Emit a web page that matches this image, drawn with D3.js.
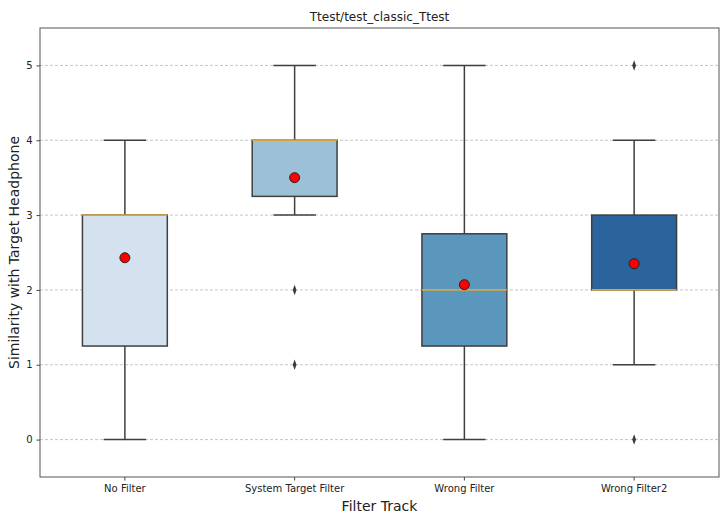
<!DOCTYPE html>
<html>
<head>
<meta charset="utf-8">
<script src="https://cdn.jsdelivr.net/npm/d3@7"></script>
<style>
  body { margin: 0; background: #fff; }
  text { font-family: "DejaVu Sans", sans-serif; fill: #222; }
</style>
</head>
<body>
<div id="chart"></div>
<script>
const categories = ['No Filter', 'System Target Filter', 'Wrong Filter', 'Wrong Filter2'];
const whiskerLow = [0, 3, 0, 1];
const q1 = [1.25, 3.25, 1.25, 2];
const median = [3, 4, 2, 2];
const q3 = [3, 4, 2.75, 3];
const whiskerHigh = [4, 5, 5, 4];
const means = [2.43, 3.5, 2.07, 2.35];
const outliers = [[], [2, 1], [], [5, 0]];
const boxColors = ['#d4e2ef', '#9cc1d7', '#5b96bc', '#2b649c'];
const yTicks = [0, 1, 2, 3, 4, 5];

const width = 724, height = 518;
const margin = { top: 28, right: 5, bottom: 41, left: 40 };
const W = width - margin.left - margin.right;
const H = height - margin.top - margin.bottom;

const svg = d3.select('#chart').append('svg')
  .attr('width', width).attr('height', height);

const g = svg.append('g').attr('transform', `translate(${margin.left},${margin.top})`);

const x = d3.scaleBand().domain(categories).range([0, W]);
const y = d3.scaleLinear().domain([-0.5, 5.5]).range([H, 0]);

const boxW = x.bandwidth() * 0.5;
const capW = boxW * 0.5;
const edge = '#3f3f3f';

// gridlines
g.append('g')
  .selectAll('line')
  .data(yTicks)
  .join('line')
  .attr('x1', 0).attr('x2', W)
  .attr('y1', d => y(d)).attr('y2', d => y(d))
  .attr('stroke', '#b8b8b8')
  .attr('stroke-width', 0.8)
  .attr('stroke-dasharray', '3,2');

// boxes
const box = g.selectAll('.box')
  .data(categories)
  .join('g')
  .attr('class', 'box')
  .attr('transform', d => `translate(${x(d) + x.bandwidth() / 2},0)`);

box.append('line')
  .attr('y1', (d, i) => y(whiskerLow[i])).attr('y2', (d, i) => y(q1[i]))
  .attr('stroke', edge).attr('stroke-width', 1.5);
box.append('line')
  .attr('y1', (d, i) => y(q3[i])).attr('y2', (d, i) => y(whiskerHigh[i]))
  .attr('stroke', edge).attr('stroke-width', 1.5);
box.append('line')
  .attr('x1', -capW / 2).attr('x2', capW / 2)
  .attr('y1', (d, i) => y(whiskerLow[i])).attr('y2', (d, i) => y(whiskerLow[i]))
  .attr('stroke', edge).attr('stroke-width', 1.5);
box.append('line')
  .attr('x1', -capW / 2).attr('x2', capW / 2)
  .attr('y1', (d, i) => y(whiskerHigh[i])).attr('y2', (d, i) => y(whiskerHigh[i]))
  .attr('stroke', edge).attr('stroke-width', 1.5);

box.append('rect')
  .attr('x', -boxW / 2).attr('width', boxW)
  .attr('y', (d, i) => y(q3[i]))
  .attr('height', (d, i) => y(q1[i]) - y(q3[i]))
  .attr('fill', (d, i) => boxColors[i])
  .attr('stroke', edge).attr('stroke-width', 1.5);

box.append('line')
  .attr('x1', -boxW / 2).attr('x2', boxW / 2)
  .attr('y1', (d, i) => y(median[i])).attr('y2', (d, i) => y(median[i]))
  .attr('stroke', '#d6a440').attr('stroke-width', 1.6);

// outliers (diamonds)
box.selectAll('.flier')
  .data((d, i) => outliers[i])
  .join('path')
  .attr('class', 'flier')
  .attr('d', d3.symbol(d3.symbolDiamond, 22))
  .attr('transform', v => `translate(0,${y(v)}) scale(0.75,1.2)`)
  .attr('fill', '#3a3a3a');

// means
box.append('circle')
  .attr('cy', (d, i) => y(means[i]))
  .attr('r', 5)
  .attr('fill', '#ff0000')
  .attr('stroke', '#222').attr('stroke-width', 1);

// axes
g.append('g')
  .attr('transform', `translate(0,${H})`)
  .call(d3.axisBottom(x).tickSize(3.5).tickPadding(4))
  .call(a => a.select('.domain').remove())
  .call(a => a.selectAll('.tick line').attr('stroke', '#444'))
  .call(a => a.selectAll('text').attr('font-size', 10).attr('fill', '#222'));

g.append('g')
  .call(d3.axisLeft(y).tickValues(yTicks).tickFormat(d3.format('d')).tickSize(3.5).tickPadding(4))
  .call(a => a.select('.domain').remove())
  .call(a => a.selectAll('.tick line').attr('stroke', '#444'))
  .call(a => a.selectAll('text').attr('font-size', 10).attr('fill', '#222'));

// frame
g.append('rect')
  .attr('width', W).attr('height', H)
  .attr('fill', 'none').attr('stroke', '#555').attr('stroke-width', 1);

// labels
svg.append('text')
  .attr('x', margin.left + W / 2).attr('y', 21)
  .attr('text-anchor', 'middle').attr('font-size', 12)
  .text('Ttest/test_classic_Ttest');

svg.append('text')
  .attr('x', margin.left + W / 2).attr('y', 511)
  .attr('text-anchor', 'middle').attr('font-size', 14)
  .text('Filter Track');

svg.append('text')
  .attr('transform', `translate(19,${margin.top + H / 2}) rotate(-90)`)
  .attr('text-anchor', 'middle').attr('font-size', 14)
  .text('Similarity with Target Headphone');
</script>
</body>
</html>
